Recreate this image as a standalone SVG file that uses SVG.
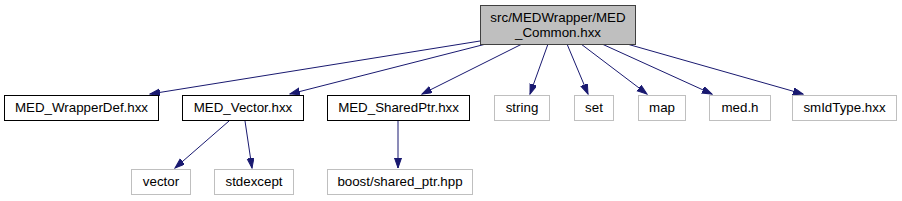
<svg xmlns="http://www.w3.org/2000/svg" width="902" height="201" viewBox="0 0 902 201">
<style>
  text { font-family: "Liberation Sans", Arial, sans-serif; font-size: 13.33px; fill: #000; text-anchor: middle; }
  .main rect { fill: #bfbfbf; stroke: #404040; stroke-width: 1; }
  .doc rect { fill: #fff; stroke: #000; stroke-width: 1; }
  .ext rect { fill: #fff; stroke: #bfbfbf; stroke-width: 1; }
  .edges line { stroke: #191970; stroke-width: 1; marker-end: url(#arr); }
</style>
<defs>
  <marker id="arr" markerUnits="userSpaceOnUse" markerWidth="11" markerHeight="8" refX="10" refY="3.5" orient="auto">
    <path d="M0,0 L10,3.5 L0,7 z" fill="#191970" stroke="#191970" stroke-width="1"/>
  </marker>
</defs>
<rect width="902" height="201" fill="#fff"/>
<g class="edges" id="edges">
  <line x1="480" y1="41" x2="150" y2="94"/>
  <line x1="486" y1="44" x2="290" y2="94"/>
  <line x1="522" y1="44" x2="422" y2="94"/>
  <line x1="548" y1="44" x2="530" y2="94"/>
  <line x1="567" y1="44" x2="588" y2="94"/>
  <line x1="581" y1="44" x2="647" y2="94"/>
  <line x1="602" y1="44" x2="712" y2="94"/>
  <line x1="627" y1="44" x2="803" y2="94"/>
  <line x1="229" y1="121" x2="175" y2="168"/>
  <line x1="245" y1="121" x2="252" y2="168"/>
  <line x1="398" y1="121" x2="398" y2="168"/>
</g>
<g id="node_main" class="main">
  <rect x="480.5" y="5.5" width="155" height="39"/>
  <text x="558" y="22">src/MEDWrapper/MED</text>
  <text x="558" y="37">_Common.hxx</text>
</g>
<g id="node_wrapperdef" class="doc">
  <rect x="4.5" y="95.5" width="154" height="25"/>
  <text x="81.5" y="112">MED_WrapperDef.hxx</text>
</g>
<g id="node_vector_hxx" class="doc">
  <rect x="182.5" y="95.5" width="121" height="25"/>
  <text x="243" y="112">MED_Vector.hxx</text>
</g>
<g id="node_sharedptr" class="doc">
  <rect x="327.5" y="95.5" width="142" height="25"/>
  <text x="398.5" y="112">MED_SharedPtr.hxx</text>
</g>
<g id="node_string" class="ext">
  <rect x="494.5" y="95.5" width="55" height="25"/>
  <text x="522" y="112">string</text>
</g>
<g id="node_set" class="ext">
  <rect x="574.5" y="95.5" width="39" height="25"/>
  <text x="594" y="112">set</text>
</g>
<g id="node_map" class="ext">
  <rect x="638.5" y="95.5" width="47" height="25"/>
  <text x="662" y="112">map</text>
</g>
<g id="node_medh" class="ext">
  <rect x="709.5" y="95.5" width="61" height="25"/>
  <text x="740" y="112">med.h</text>
</g>
<g id="node_smidtype" class="ext">
  <rect x="792.5" y="95.5" width="104" height="25"/>
  <text x="844.5" y="112">smIdType.hxx</text>
</g>
<g id="node_vector" class="ext">
  <rect x="131.5" y="169.5" width="59" height="25"/>
  <text x="161" y="186">vector</text>
</g>
<g id="node_stdexcept" class="ext">
  <rect x="214.5" y="169.5" width="79" height="25"/>
  <text x="254" y="186">stdexcept</text>
</g>
<g id="node_boost" class="ext">
  <rect x="327.5" y="169.5" width="145" height="25"/>
  <text x="400" y="186">boost/shared_ptr.hpp</text>
</g>
</svg>
